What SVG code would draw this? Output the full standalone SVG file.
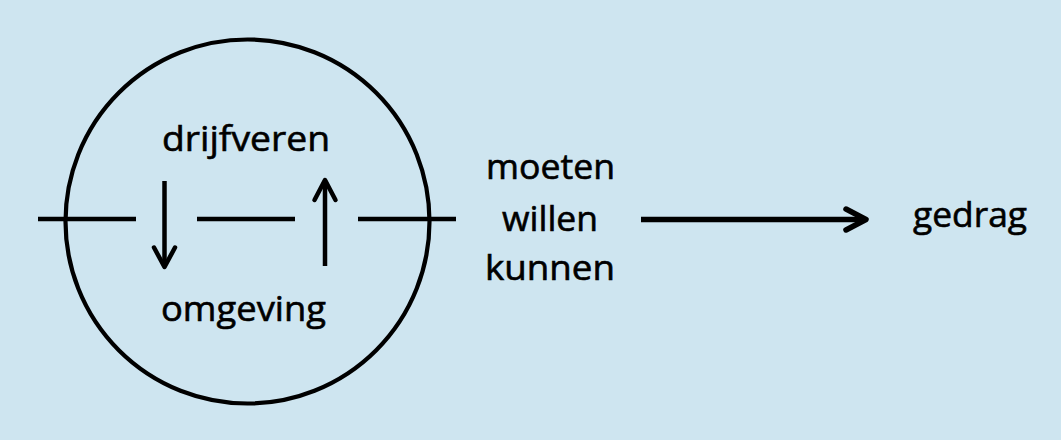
<svg xmlns="http://www.w3.org/2000/svg" width="1061" height="440" viewBox="0 0 1061 440">
<style>
.bg{fill:#cee5f0}
.ln{stroke:#000;stroke-width:4.5;fill:none;stroke-linecap:butt}
.ah{stroke:#000;stroke-width:4.5;fill:none;stroke-linecap:round;stroke-linejoin:round}
.big{stroke:#000;stroke-width:5.5;fill:none;stroke-linecap:round;stroke-linejoin:round}
.circ{stroke:#000;stroke-width:4.2;fill:none}
text{font-family:"Open Sans","Noto Sans","Liberation Sans",sans-serif;font-size:34px;fill:#000;stroke:#000;stroke-width:0.6}
</style>
<rect class="bg" x="0" y="0" width="1061" height="440"/>
<g id="circle-node">
<circle class="circ" cx="247.5" cy="221.5" r="182"/>
</g>
<g id="drijfveren">
<text x="162" y="151" textLength="168" lengthAdjust="spacingAndGlyphs">drijfveren</text>
</g>
<g id="omgeving">
<text x="161" y="321" textLength="165" lengthAdjust="spacingAndGlyphs">omgeving</text>
</g>
<g id="factoren">
<text x="486" y="179" textLength="129" lengthAdjust="spacingAndGlyphs">moeten</text>
<text x="502" y="231" textLength="96" lengthAdjust="spacingAndGlyphs">willen</text>
<text x="485" y="280" textLength="130" lengthAdjust="spacingAndGlyphs">kunnen</text>
</g>
<g id="gedrag">
<text x="913" y="227" textLength="114" lengthAdjust="spacingAndGlyphs">gedrag</text>
</g>
<g id="connectors">
<line class="ln" x1="38" y1="219" x2="136" y2="219"/>
<line class="ln" x1="197" y1="219" x2="295" y2="219"/>
<line class="ln" x1="358" y1="219" x2="456" y2="219"/>
<line class="ln" x1="164.5" y1="181" x2="164.5" y2="266"/>
<polyline class="ah" points="154,247.5 164.5,267 175,247.5"/>
<line class="ln" x1="325" y1="266" x2="325" y2="181"/>
<polyline class="ah" points="314.5,200 325,180 335.5,200"/>
<line class="big" x1="641" y1="219.5" x2="864" y2="219.5" style="stroke-linecap:butt"/>
<polyline class="big" points="846,209 866,219.5 846,230"/>
</g>
</svg>
